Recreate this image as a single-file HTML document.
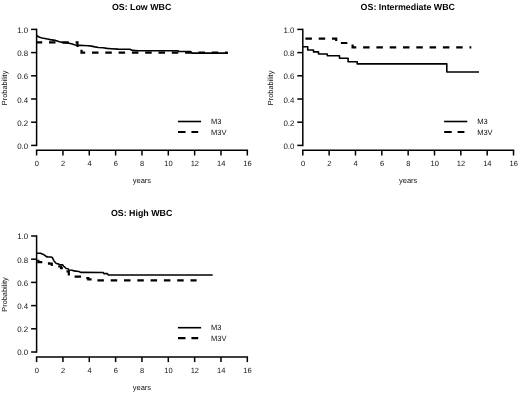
<!DOCTYPE html>
<html><head><meta charset="utf-8"><style>
html,body{margin:0;padding:0;background:#fff;width:520px;height:395px;overflow:hidden}
svg{display:block;filter:grayscale(1) blur(0.12px)}
text{font-family:"Liberation Sans",sans-serif;fill:#111;text-rendering:geometricPrecision}
.l{font-size:7.5px}
.t{font-size:8.85px;font-weight:bold;fill:#000}
.ax{stroke:#000;stroke-width:1.5;fill:none}
.s{stroke:#000;stroke-width:1.6;fill:none;stroke-linejoin:round}
.d{stroke:#000;stroke-width:2.2;fill:none;stroke-dasharray:6.5 6.8}
.ld{stroke:#000;stroke-width:2.2;fill:none}
</style></head><body>
<svg width="520" height="395" viewBox="0 0 520 395">
<g transform="translate(0,0)">
<text x="141.61" y="9.8" class="t" text-anchor="middle">OS: Low WBC</text>
<path d="M36.6 28.65V146.15" class="ax"/>
<path d="M31.1 145.4H36.6" class="ax"/>
<text x="28.2" y="148.9" class="l" style="font-size:7.9px" text-anchor="end">0.0</text>
<path d="M31.1 122.2H36.6" class="ax"/>
<text x="28.2" y="125.7" class="l" style="font-size:7.9px" text-anchor="end">0.2</text>
<path d="M31.1 99H36.6" class="ax"/>
<text x="28.2" y="102.5" class="l" style="font-size:7.9px" text-anchor="end">0.4</text>
<path d="M31.1 75.8H36.6" class="ax"/>
<text x="28.2" y="79.3" class="l" style="font-size:7.9px" text-anchor="end">0.6</text>
<path d="M31.1 52.6H36.6" class="ax"/>
<text x="28.2" y="56.1" class="l" style="font-size:7.9px" text-anchor="end">0.8</text>
<path d="M31.1 29.4H36.6" class="ax"/>
<text x="28.2" y="32.9" class="l" style="font-size:7.9px" text-anchor="end">1.0</text>
<path d="M35.85 150.3H248.07" class="ax"/>
<path d="M36.6 150.3V155.5" class="ax"/>
<text x="36.8" y="166.2" class="l" text-anchor="middle">0</text>
<path d="M62.94 150.3V155.5" class="ax"/>
<text x="63.14" y="166.2" class="l" text-anchor="middle">2</text>
<path d="M89.28 150.3V155.5" class="ax"/>
<text x="89.48" y="166.2" class="l" text-anchor="middle">4</text>
<path d="M115.62 150.3V155.5" class="ax"/>
<text x="115.82" y="166.2" class="l" text-anchor="middle">6</text>
<path d="M141.96 150.3V155.5" class="ax"/>
<text x="142.16" y="166.2" class="l" text-anchor="middle">8</text>
<path d="M168.3 150.3V155.5" class="ax"/>
<text x="168.5" y="166.2" class="l" text-anchor="middle">10</text>
<path d="M194.64 150.3V155.5" class="ax"/>
<text x="194.84" y="166.2" class="l" text-anchor="middle">12</text>
<path d="M220.98 150.3V155.5" class="ax"/>
<text x="221.18" y="166.2" class="l" text-anchor="middle">14</text>
<path d="M247.32 150.3V155.5" class="ax"/>
<text x="247.52" y="166.2" class="l" text-anchor="middle">16</text>
<text x="141.96" y="183.2" class="l" text-anchor="middle">years</text>
<text transform="translate(7.0,87.9) rotate(-90)" class="l" style="font-size:7.4px" text-anchor="middle">Probability</text>
<g transform="translate(0,0)">
<path d="M177.9 121.5H201.1" class="s"/>
<path d="M178 132H185.5M191.4 132H198.2" class="ld"/>
<text x="211" y="124" class="l">M3</text>
<text x="211" y="134.6" class="l">M3V</text>
</g>
</g>
<g transform="translate(266.2,0)">
<text x="141.61" y="9.8" class="t" text-anchor="middle">OS: Intermediate WBC</text>
<path d="M36.6 28.65V146.15" class="ax"/>
<path d="M31.1 145.4H36.6" class="ax"/>
<text x="28.2" y="148.9" class="l" style="font-size:7.9px" text-anchor="end">0.0</text>
<path d="M31.1 122.2H36.6" class="ax"/>
<text x="28.2" y="125.7" class="l" style="font-size:7.9px" text-anchor="end">0.2</text>
<path d="M31.1 99H36.6" class="ax"/>
<text x="28.2" y="102.5" class="l" style="font-size:7.9px" text-anchor="end">0.4</text>
<path d="M31.1 75.8H36.6" class="ax"/>
<text x="28.2" y="79.3" class="l" style="font-size:7.9px" text-anchor="end">0.6</text>
<path d="M31.1 52.6H36.6" class="ax"/>
<text x="28.2" y="56.1" class="l" style="font-size:7.9px" text-anchor="end">0.8</text>
<path d="M31.1 29.4H36.6" class="ax"/>
<text x="28.2" y="32.9" class="l" style="font-size:7.9px" text-anchor="end">1.0</text>
<path d="M35.85 150.3H248.07" class="ax"/>
<path d="M36.6 150.3V155.5" class="ax"/>
<text x="36.8" y="166.2" class="l" text-anchor="middle">0</text>
<path d="M62.94 150.3V155.5" class="ax"/>
<text x="63.14" y="166.2" class="l" text-anchor="middle">2</text>
<path d="M89.28 150.3V155.5" class="ax"/>
<text x="89.48" y="166.2" class="l" text-anchor="middle">4</text>
<path d="M115.62 150.3V155.5" class="ax"/>
<text x="115.82" y="166.2" class="l" text-anchor="middle">6</text>
<path d="M141.96 150.3V155.5" class="ax"/>
<text x="142.16" y="166.2" class="l" text-anchor="middle">8</text>
<path d="M168.3 150.3V155.5" class="ax"/>
<text x="168.5" y="166.2" class="l" text-anchor="middle">10</text>
<path d="M194.64 150.3V155.5" class="ax"/>
<text x="194.84" y="166.2" class="l" text-anchor="middle">12</text>
<path d="M220.98 150.3V155.5" class="ax"/>
<text x="221.18" y="166.2" class="l" text-anchor="middle">14</text>
<path d="M247.32 150.3V155.5" class="ax"/>
<text x="247.52" y="166.2" class="l" text-anchor="middle">16</text>
<text x="141.96" y="183.2" class="l" text-anchor="middle">years</text>
<text transform="translate(7.0,87.9) rotate(-90)" class="l" style="font-size:7.4px" text-anchor="middle">Probability</text>
<g transform="translate(0,0)">
<path d="M177.9 121.5H201.1" class="s"/>
<path d="M178 132H185.5M191.4 132H198.2" class="ld"/>
<text x="211" y="124" class="l">M3</text>
<text x="211" y="134.6" class="l">M3V</text>
</g>
</g>
<g transform="translate(0,206.6)">
<text x="141.61" y="9.8" class="t" text-anchor="middle">OS: High WBC</text>
<path d="M36.6 28.65V146.15" class="ax"/>
<path d="M31.1 145.4H36.6" class="ax"/>
<text x="28.2" y="148.9" class="l" style="font-size:7.9px" text-anchor="end">0.0</text>
<path d="M31.1 122.2H36.6" class="ax"/>
<text x="28.2" y="125.7" class="l" style="font-size:7.9px" text-anchor="end">0.2</text>
<path d="M31.1 99H36.6" class="ax"/>
<text x="28.2" y="102.5" class="l" style="font-size:7.9px" text-anchor="end">0.4</text>
<path d="M31.1 75.8H36.6" class="ax"/>
<text x="28.2" y="79.3" class="l" style="font-size:7.9px" text-anchor="end">0.6</text>
<path d="M31.1 52.6H36.6" class="ax"/>
<text x="28.2" y="56.1" class="l" style="font-size:7.9px" text-anchor="end">0.8</text>
<path d="M31.1 29.4H36.6" class="ax"/>
<text x="28.2" y="32.9" class="l" style="font-size:7.9px" text-anchor="end">1.0</text>
<path d="M35.85 150.3H248.07" class="ax"/>
<path d="M36.6 150.3V155.5" class="ax"/>
<text x="36.8" y="166.2" class="l" text-anchor="middle">0</text>
<path d="M62.94 150.3V155.5" class="ax"/>
<text x="63.14" y="166.2" class="l" text-anchor="middle">2</text>
<path d="M89.28 150.3V155.5" class="ax"/>
<text x="89.48" y="166.2" class="l" text-anchor="middle">4</text>
<path d="M115.62 150.3V155.5" class="ax"/>
<text x="115.82" y="166.2" class="l" text-anchor="middle">6</text>
<path d="M141.96 150.3V155.5" class="ax"/>
<text x="142.16" y="166.2" class="l" text-anchor="middle">8</text>
<path d="M168.3 150.3V155.5" class="ax"/>
<text x="168.5" y="166.2" class="l" text-anchor="middle">10</text>
<path d="M194.64 150.3V155.5" class="ax"/>
<text x="194.84" y="166.2" class="l" text-anchor="middle">12</text>
<path d="M220.98 150.3V155.5" class="ax"/>
<text x="221.18" y="166.2" class="l" text-anchor="middle">14</text>
<path d="M247.32 150.3V155.5" class="ax"/>
<text x="247.52" y="166.2" class="l" text-anchor="middle">16</text>
<text x="141.96" y="183.2" class="l" text-anchor="middle">years</text>
<text transform="translate(7.0,87.9) rotate(-90)" class="l" style="font-size:7.4px" text-anchor="middle">Probability</text>
<g transform="translate(0,-0.4)">
<path d="M177.9 121.5H201.1" class="s"/>
<path d="M178 132H185.5M191.4 132H198.2" class="ld"/>
<text x="211" y="124" class="l">M3</text>
<text x="211" y="134.6" class="l">M3V</text>
</g>
</g>
<path d="M36.6 35.5L37.8 36.3L39.4 37.2L42.1 38L44.8 38.5L47.5 39L50.2 39.6L53.4 40.1L55.5 40.4L57.2 40.9L59.3 41.7L63.5 42.6L68.7 43.2L71.5 43.8L74.4 44.7L77.3 45.5L79.6 45.3L88 45.8L91.5 46.1L94.9 46.9L98.4 47.5L103 47.8L107 48.4L111.1 48.7L118 49.1L129.8 49.2L132.7 50.4L137.9 50.7H177.8L179 51.5H190.5L192 53.1H227.8" class="s"/>
<path d="M36.6 42.4H77.5V47H81.5V52.6H227.8" class="d" stroke-dashoffset="0.9"/>
<path d="M302.8 46.8H307.7V50H313.5V51.9H318.5V54H327.3V55.8H339.5V58.3H348.1V61.8H357.2V63.9H446.8V72H479" class="s"/>
<path d="M302.8 38.6H336.2V43H352.6V47.4H471.3" class="d" stroke-dashoffset="10.7"/>
<path d="M36.6 253L37.2 253.1L40.6 253.3L42.1 254.1L43.6 254.6L45.1 255.6L46.4 256.6L47.7 256.9L51.5 257L52.5 257.9L53.2 259.4L54.2 261.2L55.4 262.6L56.4 263.5L58.3 263.9L59.5 264.5L62.5 264.8L63.7 266.3L64.9 267.2L66.2 268.5L68 268.8L69.2 270L72.2 270.3L74 270.9L78.9 271.5L80.7 272.4L103.2 272.5L103.9 273.6L107.4 273.6L108.4 275H212.7" class="s"/>
<path d="M36.6 259.7H38.3V262.2H49V263.6H51.8V265H57.5V266.4H61V268.2H65.8V271.4H68.8V276.6H86V278.2H88.3V279.4H94V280.4H196.6" class="d" stroke-dashoffset="11.6"/>
</svg>
</body></html>
